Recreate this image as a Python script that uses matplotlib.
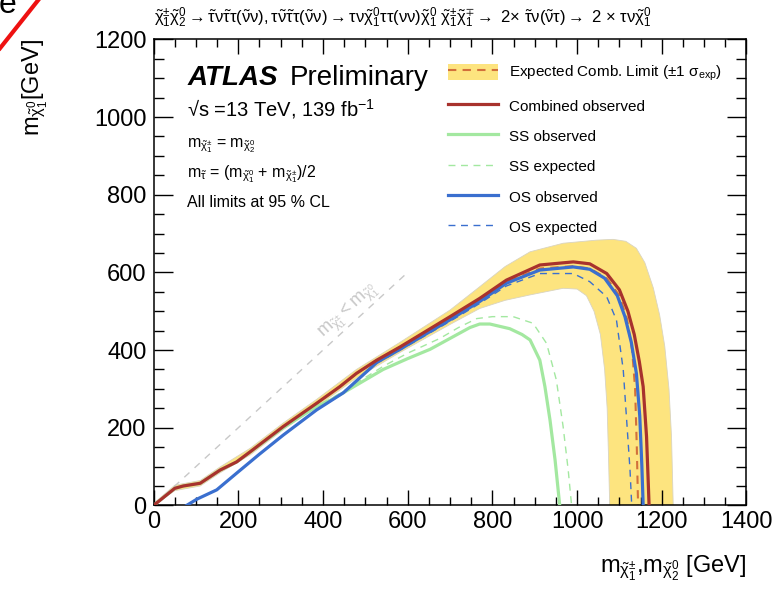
import matplotlib
matplotlib.use("Agg")
import matplotlib.pyplot as plt
from matplotlib.lines import Line2D
from matplotlib.patches import Patch
from matplotlib.ticker import MultipleLocator

plt.rcParams['font.family'] = ['Liberation Sans', 'DejaVu Sans']
plt.rcParams['mathtext.fontset'] = 'custom'
plt.rcParams['mathtext.rm'] = 'Liberation Sans'
plt.rcParams['mathtext.it'] = 'Liberation Sans:italic'
plt.rcParams['mathtext.bf'] = 'Liberation Sans:bold'
plt.rcParams['mathtext.default'] = 'regular'

# expected combined limit and its +-1 sigma band
exp_x = [0, 50, 70, 110, 157, 196, 228, 306, 385, 440, 479, 527, 582, 700, 770, 833,
         912, 991, 1030, 1070, 1100, 1118, 1130, 1137, 1141, 1144]
exp_y = [0, 44, 50, 57, 91, 112, 138, 203, 263, 306, 340, 374, 408, 484, 530, 575,
         610, 616, 610, 585, 540, 480, 400, 300, 150, 0]
band_up_x = [0, 50, 110, 157, 228, 306, 385, 479, 582, 700, 770, 830, 889, 967, 1046,
             1085, 1115, 1140, 1160, 1180, 1195, 1207, 1217, 1223, 1227]
band_up_y = [5, 52, 64, 99, 147, 212, 273, 350, 420, 503, 563, 615, 653, 675, 683,
             685, 680, 662, 625, 560, 490, 410, 300, 177, 0]
band_lo_x = [0, 50, 110, 157, 228, 306, 385, 479, 582, 700, 770, 830, 889, 967, 1000,
             1022, 1040, 1055, 1065, 1071, 1074, 1077]
band_lo_y = [0, 38, 50, 84, 130, 195, 254, 328, 394, 466, 507, 528, 542, 559, 557,
             540, 500, 440, 350, 250, 134, 0]

# combined observed
comb_x = [0, 50, 70, 110, 157, 196, 228, 306, 385, 440, 479, 527, 582, 700, 770, 833,
          912, 991, 1030, 1070, 1100, 1120, 1135, 1147, 1156, 1164, 1168, 1170]
comb_y = [0, 44, 50, 57, 91, 112, 138, 203, 263, 306, 340, 374, 408, 486, 533, 580,
          619, 627, 622, 597, 555, 500, 440, 370, 306, 177, 60, 0]

# same-sign channel
ss_obs_x = [0, 50, 70, 110, 157, 196, 228, 306, 385, 416, 448, 542, 600, 653, 700,
            747, 770, 794, 841, 870, 889, 912, 924, 936, 948, 959]
ss_obs_y = [0, 44, 50, 57, 91, 112, 138, 200, 255, 270, 290, 350, 378, 402, 430,
            458, 467, 467, 455, 440, 426, 374, 306, 220, 117, 0]
ss_exp_x = [0, 50, 70, 110, 157, 196, 228, 306, 385, 416, 448, 542, 600, 676, 720,
            763, 800, 849, 896, 928, 951, 967, 979, 987]
ss_exp_y = [0, 44, 50, 57, 91, 112, 138, 200, 257, 273, 294, 358, 392, 430, 458,
            481, 486, 486, 469, 417, 323, 203, 91, 0]

# opposite-sign channel
os_obs_x = [78, 102, 149, 196, 250, 306, 385, 448, 527, 582, 700, 770, 833, 912, 991,
            1030, 1065, 1095, 1113, 1128, 1140, 1148, 1153, 1156]
os_obs_y = [0, 16, 40, 83, 132, 181, 246, 290, 368, 402, 478, 525, 572, 606, 614,
            608, 585, 540, 486, 420, 340, 230, 100, 0]
os_exp_x = [78, 102, 149, 196, 250, 306, 385, 448, 527, 582, 700, 770, 833, 912, 991,
            1030, 1070, 1093, 1109, 1117, 1125, 1129]
os_exp_y = [0, 16, 40, 83, 132, 181, 246, 290, 366, 400, 474, 520, 565, 597, 597,
            576, 537, 477, 349, 220, 91, 0]

diag = [0, 600]

c_band = '#fde47f'
c_exp = '#d2703a'
c_comb = '#a8322d'
c_ss = '#a3e8a0'
c_os = '#3a6fcf'

fig = plt.figure(figsize=(7.81, 5.96), dpi=100)
ax = fig.add_axes([0.1967, 0.152, 0.7591, 0.782])

ax.fill(band_up_x + band_lo_x[::-1], band_up_y + band_lo_y[::-1],
        facecolor=c_band, edgecolor='#d9d4c0', lw=0.6, zorder=1)
ax.plot(diag, diag, color='#c8c8c8', lw=1.0, ls=(0, (5, 5)), zorder=1.5)
ax.text(461, 500, r'$m_{\tilde{\chi}_1^{\pm}} < m_{\tilde{\chi}_1^0}$', color='#c8c8c8',
        fontsize=13, rotation=42.5, ha='center', va='center', rotation_mode='anchor')

ax.plot(exp_x, exp_y, color=c_exp, lw=1.5, ls=(0, (4, 3)), zorder=2)
ax.plot(ss_exp_x, ss_exp_y, color=c_ss, lw=1.0, ls=(0, (5, 4)), zorder=3)
ax.plot(ss_obs_x, ss_obs_y, color=c_ss, lw=2.3, zorder=3)
ax.plot(os_exp_x, os_exp_y, color=c_os, lw=1.0, ls=(0, (5, 4)), zorder=4)
ax.plot(os_obs_x, os_obs_y, color=c_os, lw=2.3, zorder=4)
ax.plot(comb_x, comb_y, color=c_comb, lw=2.3, zorder=5)

ax.set_xlim(0, 1400)
ax.set_ylim(0, 1200)
ax.xaxis.set_major_locator(MultipleLocator(200))
ax.xaxis.set_minor_locator(MultipleLocator(50))
ax.yaxis.set_major_locator(MultipleLocator(200))
ax.yaxis.set_minor_locator(MultipleLocator(50))
ax.tick_params(which='both', direction='in', top=True, right=True, width=1.0,
               labelsize=17)
ax.tick_params(axis='x', which='major', length=11, pad=4)
ax.tick_params(axis='x', which='minor', length=5.5)
ax.tick_params(axis='y', which='major', length=14, pad=5)
ax.tick_params(axis='y', which='minor', length=7)
for s in ax.spines.values():
    s.set_linewidth(1.1)

# legend
handles = [(Patch(facecolor=c_band, edgecolor='none'),
            Line2D([], [], color=c_exp, lw=1.5, ls=(0, (4, 3)))),
           Line2D([], [], color=c_comb, lw=2.3),
           Line2D([], [], color=c_ss, lw=2.3),
           Line2D([], [], color=c_ss, lw=1.0, ls=(0, (5, 4))),
           Line2D([], [], color=c_os, lw=2.3),
           Line2D([], [], color=c_os, lw=1.0, ls=(0, (5, 4)))]
labels = [r'Expected Comb. Limit ($\pm$1 $\sigma_{exp}$)', 'Combined observed',
          'SS observed', 'SS expected', 'OS observed', 'OS expected']
ax.legend(handles, labels, loc='upper left', bbox_to_anchor=(0.4966, 0.948),
          frameon=False, fontsize=11, borderpad=0, borderaxespad=0,
          handlelength=3.27, handleheight=1.3, handletextpad=0.72, labelspacing=0.9)

# labels inside the frame
ax.text(0.0565, 0.902, 'ATLAS', transform=ax.transAxes, fontsize=20,
        fontweight='bold', fontstyle='italic', va='baseline')
ax.text(0.229, 0.902, 'Preliminary', transform=ax.transAxes, fontsize=20,
        va='baseline')
ax.text(0.0565, 0.835, '\u221as =13 TeV, 139 fb$^{-1}$', transform=ax.transAxes,
        fontsize=14.5, va='baseline')
ax.text(0.0565, 0.769, r'$m_{\tilde{\chi}_1^{\pm}}$ = $m_{\tilde{\chi}_2^0}$',
        transform=ax.transAxes, fontsize=11.5, va='baseline')
ax.text(0.0565, 0.705,
        r'$m_{\tilde{\tau}}$ = ($m_{\tilde{\chi}_1^0}$ + $m_{\tilde{\chi}_1^{\pm}}$)/2',
        transform=ax.transAxes, fontsize=11.5, va='baseline')
ax.text(0.0565, 0.641, 'All limits at 95 % CL', transform=ax.transAxes,
        fontsize=11.5, va='baseline')

# process line above the frame
ax.text(0.0, 1.035,
        r'$\tilde{\chi}_1^{\pm}\tilde{\chi}_2^0 \rightarrow \tilde{\tau}\nu\tilde{\tau}\tau(\tilde{\nu}\nu),'
        r'\tau\tilde{\nu}\tilde{\tau}\tau(\tilde{\nu}\nu) \rightarrow \tau\nu\tilde{\chi}_1^0\tau\tau(\nu\nu)\tilde{\chi}_1^0$ '
        r'$\tilde{\chi}_1^{\pm}\tilde{\chi}_1^{\mp}\rightarrow$ 2$\times$ $\tilde{\tau}\nu(\tilde{\nu}\tau) \rightarrow$ '
        r'2 $\times$ $\tau\nu\tilde{\chi}_1^0$',
        transform=ax.transAxes, fontsize=12, va='baseline')

ax.text(1.0, -0.145, r'$m_{\tilde{\chi}_1^{\pm}}$,$m_{\tilde{\chi}_2^0}$ [GeV]',
        transform=ax.transAxes, fontsize=17, ha='right', va='baseline')
fig.text(0.045, 0.935, r'$m_{\tilde{\chi}_1^0}$[GeV]', rotation=90, fontsize=17,
         ha='center', va='top')

# clipped stamp in the corner
fig.add_artist(Line2D([0.0, 0.049], [0.919, 1.0], color='#ee1111', lw=3.0))
fig.text(-0.002, 1 - 13 / 596, 'e', fontsize=23, va='baseline')

fig.savefig('out.png', dpi=100)
